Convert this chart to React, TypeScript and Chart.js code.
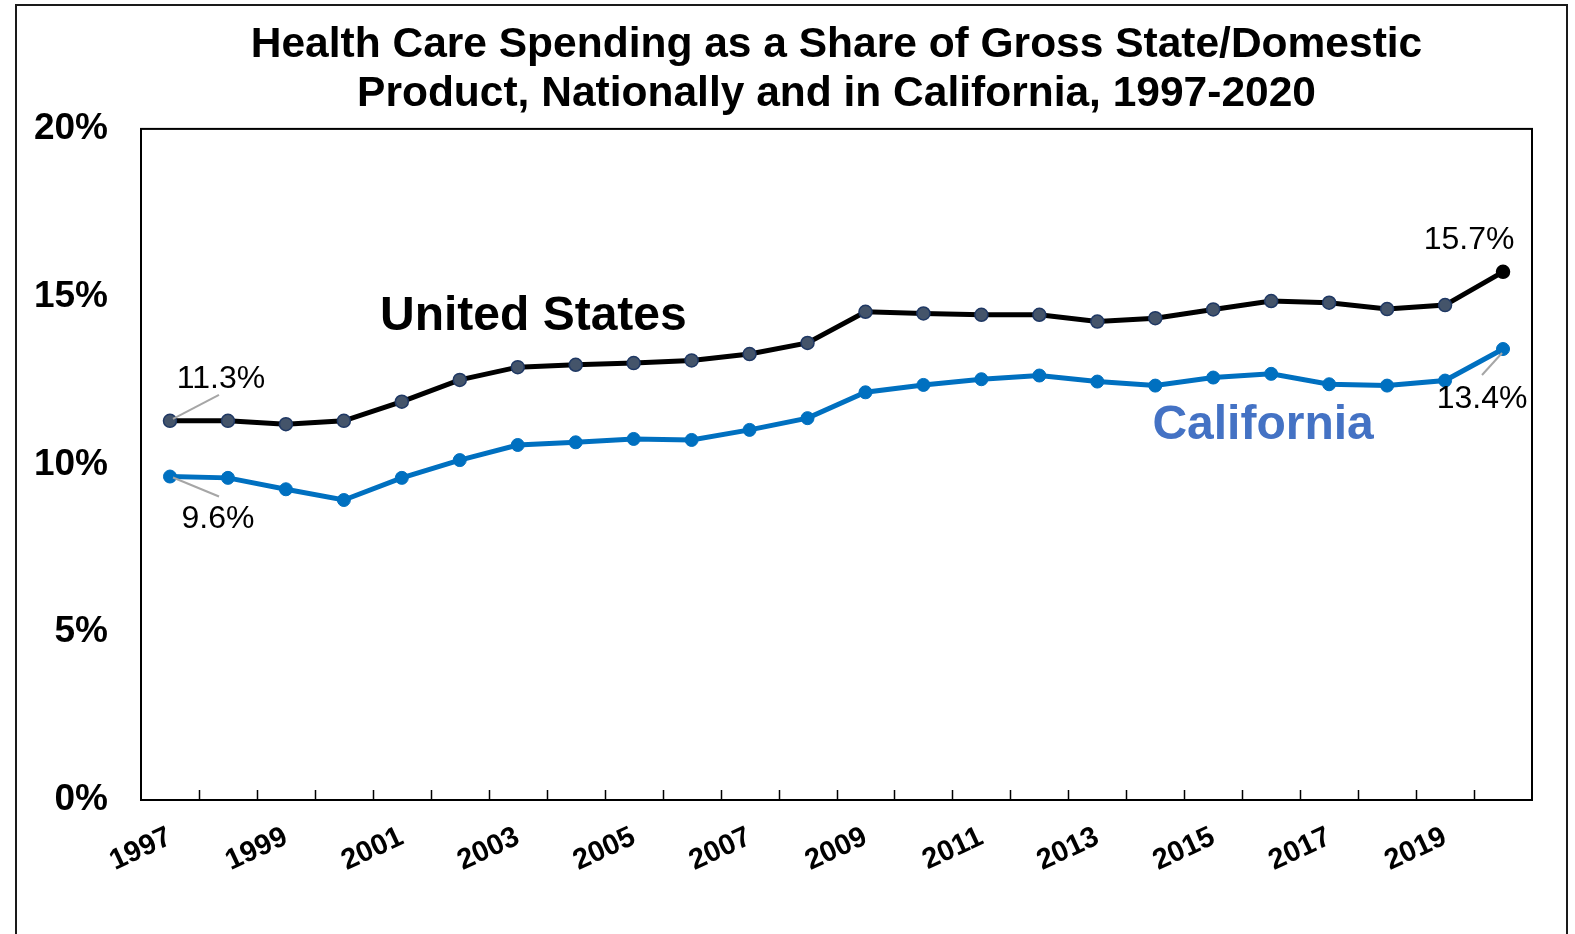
import React, { useEffect, useRef } from "react";
import { Chart, registerables } from "chart.js";

Chart.register(...registerables);

const years = [
  "1997", "1998", "1999", "2000", "2001", "2002", "2003", "2004",
  "2005", "2006", "2007", "2008", "2009", "2010", "2011", "2012",
  "2013", "2014", "2015", "2016", "2017", "2018", "2019", "2020",
];

const usShare = [
  11.3, 11.3, 11.2, 11.3, 11.87, 12.52, 12.9, 12.97,
  13.02, 13.1, 13.29, 13.62, 14.55, 14.5, 14.46, 14.46,
  14.26, 14.36, 14.62, 14.87, 14.82, 14.63, 14.75, 15.74,
];

const caShare = [
  9.64, 9.6, 9.26, 8.94, 9.6, 10.13, 10.58, 10.66,
  10.76, 10.73, 11.03, 11.38, 12.15, 12.37, 12.54, 12.65,
  12.47, 12.35, 12.59, 12.7, 12.39, 12.35, 12.5, 13.44,
];

const yTickValues = [0, 5, 10, 15, 20];

const titleLines = [
  "Health Care Spending as a Share of Gross State/Domestic",
  "Product, Nationally and in California, 1997-2020",
];

const seriesNames = ["United States", "California"];

const FONT = "'Liberation Sans', Arial, Helvetica, sans-serif";

const decorPlugin = {
  id: "decor",
  beforeDraw(chart: any) {
    const ctx = chart.ctx;
    ctx.save();
    ctx.fillStyle = "#ffffff";
    ctx.fillRect(0, 0, chart.width, chart.height);
    ctx.strokeStyle = "#1a1a1a";
    ctx.lineWidth = 2;
    ctx.strokeRect(16, 5, 1551, 1000);
    ctx.restore();
  },
  beforeDatasetsDraw(chart: any) {
    const { ctx, chartArea, scales } = chart;
    const x = scales.x;
    ctx.save();
    ctx.strokeStyle = "#000000";
    ctx.lineWidth = 2;
    ctx.strokeRect(
      chartArea.left,
      chartArea.top,
      chartArea.right - chartArea.left,
      chartArea.bottom - chartArea.top
    );
    ctx.lineWidth = 1.5;
    ctx.beginPath();
    for (let i = 0; i < years.length - 1; i++) {
      const px = Math.round((x.getPixelForValue(i) + x.getPixelForValue(i + 1)) / 2) + 0.5;
      ctx.moveTo(px, chartArea.bottom);
      ctx.lineTo(px, chartArea.bottom - 10);
    }
    ctx.stroke();
    ctx.restore();
  },
  afterDatasetsDraw(chart: any) {
    const { ctx, scales } = chart;
    const x = scales.x;
    const y = scales.y;
    ctx.save();

    // series names
    ctx.textAlign = "center";
    ctx.textBaseline = "middle";
    ctx.font = `bold 48px ${FONT}`;
    ctx.fillStyle = "#000000";
    ctx.fillText(seriesNames[0], x.getPixelForValue(6.27), y.getPixelForValue(14.4));
    ctx.fillStyle = "#4472C4";
    ctx.fillText(seriesNames[1], x.getPixelForValue(18.86), y.getPixelForValue(11.15));

    // callouts
    const first = 0;
    const last = years.length - 1;
    const pt = (i: number, v: number) => [x.getPixelForValue(i), y.getPixelForValue(v)];
    const leader = (ax: number, ay: number, bx: number, by: number) => {
      ctx.beginPath();
      ctx.moveTo(ax, ay);
      ctx.lineTo(bx, by);
      ctx.strokeStyle = "#A6A6A6";
      ctx.lineWidth = 2;
      ctx.stroke();
    };
    ctx.font = `32px ${FONT}`;
    ctx.fillStyle = "#000000";

    const [u0x, u0y] = pt(first, usShare[first]);
    leader(u0x + 3, u0y - 2, u0x + 49, u0y - 26);
    ctx.fillText(usShare[first].toFixed(1) + "%", u0x + 51, u0y - 42);

    const [c0x, c0y] = pt(first, caShare[first]);
    leader(c0x + 3, c0y + 1, c0x + 49, c0y + 20);
    ctx.fillText(caShare[first].toFixed(1) + "%", c0x + 48, c0y + 43);

    const [u1x, u1y] = pt(last, usShare[last]);
    ctx.fillText(usShare[last].toFixed(1) + "%", u1x - 34, u1y - 32);

    const [c1x, c1y] = pt(last, caShare[last]);
    leader(c1x - 1, c1y + 4, c1x - 21, c1y + 26);
    ctx.fillText(caShare[last].toFixed(1) + "%", c1x - 21, c1y + 50);

    ctx.restore();
  },
};

export default function App() {
  const canvasRef = useRef<HTMLCanvasElement | null>(null);

  useEffect(() => {
    if (!canvasRef.current) return;
    Chart.defaults.font.family = FONT;
    const usPointBg = usShare.map((_, i) => (i === usShare.length - 1 ? "#000000" : "#44546A"));
    const usPointBorder = usShare.map((_, i) => (i === usShare.length - 1 ? "#000000" : "#1F3864"));

    const chart = new Chart(canvasRef.current, {
      type: "line",
      data: {
        labels: years,
        datasets: [
          {
            label: seriesNames[0],
            data: usShare,
            borderColor: "#000000",
            borderWidth: 5,
            pointRadius: 6.5,
            pointBorderWidth: 1.5,
            pointBackgroundColor: usPointBg,
            pointBorderColor: usPointBorder,
            tension: 0,
          },
          {
            label: seriesNames[1],
            data: caShare,
            borderColor: "#0070C0",
            borderWidth: 5,
            pointRadius: 6.5,
            pointBorderWidth: 1,
            pointBackgroundColor: "#0070C0",
            pointBorderColor: "#0070C0",
            tension: 0,
          },
        ],
      },
      options: {
        responsive: false,
        animation: false,
        events: [],
        layout: { padding: { left: 0, right: 43, top: 0, bottom: 0 } },
        plugins: {
          legend: { display: false },
          tooltip: { enabled: false },
          title: {
            display: true,
            fullSize: false,
            text: titleLines,
            color: "#000000",
            font: { family: FONT, size: 42.5, weight: "bold", lineHeight: 1.14 },
            padding: { top: 21.5, bottom: 10.5 },
          },
        },
        scales: {
          x: {
            type: "category",
            offset: true,
            grid: { display: false, drawTicks: false, offset: true },
            border: { display: false },
            ticks: {
              autoSkip: false,
              minRotation: 25,
              maxRotation: 25,
              padding: 20,
              color: "#000000",
              font: { family: FONT, size: 29, weight: "bold" },
              callback: (_v: any, i: number) => (i % 2 === 0 ? years[i] : ""),
            },
            afterFit: (scale: any) => {
              scale.height = 134;
            },
          },
          y: {
            min: 0,
            max: 20,
            grid: { display: false, drawTicks: false },
            border: { display: false },
            afterBuildTicks: (scale: any) => {
              scale.ticks = yTickValues.map((v) => ({ value: v }));
            },
            ticks: {
              padding: 33,
              color: "#000000",
              font: { family: FONT, size: 37, weight: "bold" },
              callback: (v: any) => `${v}%`,
            },
            afterFit: (scale: any) => {
              scale.width = 141;
            },
          },
        },
      },
      plugins: [decorPlugin],
    });
    return () => chart.destroy();
  }, []);

  return (
    <div style={{ position: "absolute", left: 0, top: 0, width: 1575, height: 934, overflow: "hidden" }}>
      <canvas ref={canvasRef} width={1575} height={934} style={{ width: 1575, height: 934, display: "block" }} />
    </div>
  );
}
